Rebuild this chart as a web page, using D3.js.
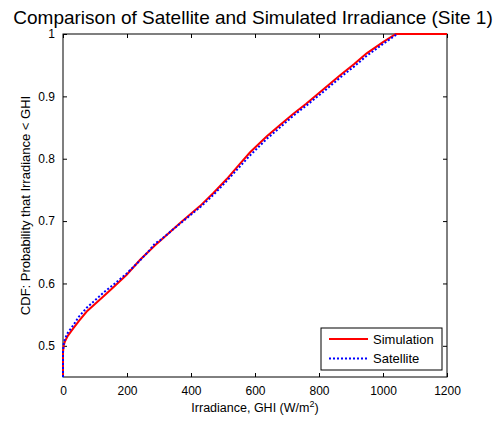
<!DOCTYPE html>
<html>
<head>
<meta charset="utf-8">
<script src="https://cdn.jsdelivr.net/npm/d3@7"></script>
<style>
  body { margin: 0; background: #fff; }
  text { font-family: "Liberation Sans", Arial, sans-serif; fill: #000; }
</style>
</head>
<body>
<script>
const width = 501;
const height = 421;
const margin = ({top: 34, right: 54, bottom: 44, left: 63});

// irradiance (W/m^2) vs cumulative probability
const simIrradiance = [0, 0, 2, 6, 15, 32, 50, 74, 100, 126, 160, 199, 241, 287, 303, 366, 428, 470, 511, 550, 584, 637, 680, 720, 760, 813, 866, 910, 949, 1000, 1040, 1200];
const simCdf = [0.45, 0.49, 0.500, 0.507, 0.516, 0.528, 0.540, 0.555, 0.567, 0.579, 0.595, 0.614, 0.638, 0.661, 0.668, 0.697, 0.724, 0.745, 0.767, 0.790, 0.810, 0.836, 0.855, 0.872, 0.888, 0.911, 0.934, 0.952, 0.969, 0.987, 1.0, 1.0];

const satIrradiance = [0, 0, 2, 6, 15, 32, 50, 74, 100, 126, 160, 199, 241, 270, 287, 303, 366, 428, 470, 511, 550, 584, 637, 680, 720, 760, 813, 866, 910, 949, 1000, 1045];
const satCdf = [0.45, 0.49, 0.503, 0.511, 0.521, 0.533, 0.547, 0.561, 0.573, 0.585, 0.599, 0.616, 0.637, 0.653, 0.664, 0.669, 0.696, 0.722, 0.742, 0.764, 0.786, 0.805, 0.832, 0.851, 0.869, 0.885, 0.907, 0.930, 0.948, 0.965, 0.984, 1.0];

const xTicks = [0, 200, 400, 600, 800, 1000, 1200];
const yTicks = [0.5, 0.6, 0.7, 0.8, 0.9, 1];
const seriesNames = ["Simulation", "Satellite"];
const seriesColors = ["#ff0000", "#0000ff"];

let svg = null;
let x = null;
let y = null;

function initializeScales() {
    x = d3.scaleLinear()
    .domain([0, 1200])
    .range([margin.left, width - margin.right]);

    y = d3.scaleLinear()
    .domain([0.45, 1])
    .range([height - margin.bottom, margin.top]);
}

function drawAxes() {
    const tick = 4;
    const bottom = height - margin.bottom;
    const right = width - margin.right;

    // bottom axis + ticks mirrored on top
    svg.append("g")
        .attr("transform", `translate(0,${bottom})`)
        .call(d3.axisBottom(x).tickValues(xTicks).tickSizeInner(-tick).tickSizeOuter(0).tickPadding(9).tickFormat(d3.format("")))
        .call(g => g.select(".domain").remove())
        .call(g => g.selectAll("text").attr("font-size", 12).attr("font-family", null));

    svg.append("g")
        .attr("transform", `translate(0,${margin.top})`)
        .call(d3.axisTop(x).tickValues(xTicks).tickSizeInner(-tick).tickSizeOuter(0).tickFormat(""))
        .call(g => g.select(".domain").remove());

    svg.append("g")
        .attr("transform", `translate(${margin.left},0)`)
        .call(d3.axisLeft(y).tickValues(yTicks).tickSizeInner(-tick).tickSizeOuter(0).tickPadding(8).tickFormat(d3.format("")))
        .call(g => g.select(".domain").remove())
        .call(g => g.selectAll("text").attr("font-size", 12).attr("font-family", null));

    svg.append("g")
        .attr("transform", `translate(${right},0)`)
        .call(d3.axisRight(y).tickValues(yTicks).tickSizeInner(-tick).tickSizeOuter(0).tickFormat(""))
        .call(g => g.select(".domain").remove());

    svg.append("rect")
        .attr("x", margin.left)
        .attr("y", margin.top)
        .attr("width", right - margin.left)
        .attr("height", bottom - margin.top)
        .attr("fill", "none")
        .attr("stroke", "#000")
        .attr("stroke-width", 1);
}

function drawLines() {
    const line = d3.line().x(d => x(d[0])).y(d => y(d[1]));
    const sim = d3.zip(simIrradiance, simCdf);
    const sat = d3.zip(satIrradiance, satCdf);

    svg.append("path")
        .datum(sim)
        .attr("d", line)
        .attr("fill", "none")
        .attr("stroke", seriesColors[0])
        .attr("stroke-width", 2);

    svg.append("path")
        .datum(sat)
        .attr("d", line)
        .attr("fill", "none")
        .attr("stroke", seriesColors[1])
        .attr("stroke-width", 2)
        .attr("stroke-dasharray", "2,2");
}

function drawLabels() {
    svg.append("text")
        .attr("x", 253)
        .attr("y", 24)
        .attr("text-anchor", "middle")
        .attr("font-size", 19)
        .text("Comparison of Satellite and Simulated Irradiance (Site 1)");

    const xl = svg.append("text")
        .attr("x", (margin.left + width - margin.right) / 2)
        .attr("y", 412)
        .attr("text-anchor", "middle")
        .attr("font-size", 12.5);
    xl.append("tspan").text("Irradiance, GHI (W/m");
    xl.append("tspan").attr("font-size", 9).attr("dy", -5).text("2");
    xl.append("tspan").attr("dy", 5).text(")");

    svg.append("text")
        .attr("transform", `translate(30,${(margin.top + height - margin.bottom) / 2}) rotate(-90)`)
        .attr("text-anchor", "middle")
        .attr("font-size", 13)
        .text("CDF: Probability that Irradiance < GHI");
}

function legend() {
    const g = svg.append("g")
        .attr("transform", "translate(321,328)");

    g.append("rect")
        .attr("width", 121)
        .attr("height", 42)
        .attr("fill", "#fff")
        .attr("stroke", "#000");

    const item = g.selectAll(".item")
        .data(seriesNames)
        .join("g")
        .attr("transform", (d, i) => `translate(0,${11 + i * 19.5})`);

    item.append("line")
        .attr("x1", 8)
        .attr("x2", 47)
        .attr("stroke", (d, i) => seriesColors[i])
        .attr("stroke-width", 2)
        .attr("stroke-dasharray", (d, i) => i === 1 ? "2,2" : null);

    item.append("text")
        .attr("x", 52)
        .attr("dy", "0.35em")
        .attr("font-size", 13)
        .text(d => d);
}

svg = d3.select("body")
    .append("svg")
    .attr("width", width)
    .attr("height", height);

initializeScales();
drawAxes();
drawLines();
drawLabels();
legend();
</script>
</body>
</html>
